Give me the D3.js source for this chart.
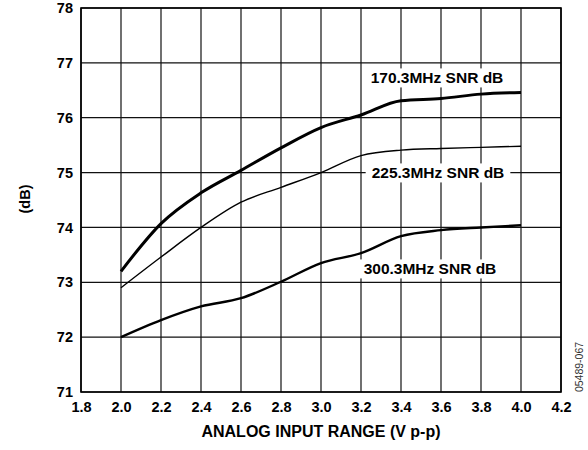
<!DOCTYPE html>
<html>
<head>
<meta charset="utf-8">
<script src="https://cdn.jsdelivr.net/npm/d3@7"></script>
<style>
  body { margin: 0; background: #fff; }
  svg text { font-family: Arial, "Liberation Sans", sans-serif; }
</style>
</head>
<body>
<svg width="588" height="450"></svg>
<script>
// input range (V p-p)
const inputRange = [2.0, 2.2, 2.4, 2.6, 2.8, 3.0, 3.2, 3.4, 3.6, 3.8, 4.0];
const snr170 = [73.2, 74.07, 74.63, 75.04, 75.45, 75.82, 76.05, 76.31, 76.35, 76.43, 76.46];
const snr225 = [72.9, 73.46, 74.0, 74.46, 74.73, 75.0, 75.31, 75.41, 75.44, 75.46, 75.48];
const snr300 = [72.0, 72.31, 72.56, 72.71, 73.01, 73.35, 73.53, 73.84, 73.95, 74.0, 74.04];
const xTicks = [1.8, 2.0, 2.2, 2.4, 2.6, 2.8, 3.0, 3.2, 3.4, 3.6, 3.8, 4.0, 4.2];
const yTicks = [71, 72, 73, 74, 75, 76, 77, 78];

const series = [
  { name: '170.3MHz SNR dB', values: snr170, width: 3, label: [437, 78] },
  { name: '225.3MHz SNR dB', values: snr225, width: 1.4, label: [438, 173] },
  { name: '300.3MHz SNR dB', values: snr300, width: 2.4, label: [430, 269] }
];

const svg = d3.select('svg');
const margin = { left: 81, top: 8, right: 27, bottom: 58 };
const width = 588 - margin.left - margin.right;
const height = 450 - margin.top - margin.bottom;

const x = d3.scaleLinear().domain([1.8, 4.2]).range([0, width]);
const y = d3.scaleLinear().domain([71, 78]).range([height, 0]);

const g = svg.append('g')
    .attr('transform', `translate(${margin.left},${margin.top})`);

// grid
g.append('g').selectAll('line')
  .data(xTicks)
  .enter().append('line')
    .attr('x1', d => x(d)).attr('x2', d => x(d))
    .attr('y1', 0).attr('y2', height)
    .attr('stroke', '#111').attr('stroke-width', 1.2);

g.append('g').selectAll('line')
  .data(yTicks)
  .enter().append('line')
    .attr('x1', 0).attr('x2', width)
    .attr('y1', d => y(d)).attr('y2', d => y(d))
    .attr('stroke', '#111').attr('stroke-width', 1.2);

g.append('rect')
    .attr('width', width).attr('height', height)
    .attr('fill', 'none').attr('stroke', '#000').attr('stroke-width', 1.6);

// axes labels
const xAxis = d3.axisBottom(x).tickValues(xTicks).tickFormat(d3.format('.1f')).tickSize(0).tickPadding(10);
const yAxis = d3.axisLeft(y).tickValues(yTicks).tickFormat(d3.format('d')).tickSize(0).tickPadding(8);

g.append('g')
    .attr('transform', `translate(0,${height})`)
    .call(xAxis)
    .call(s => s.select('.domain').remove())
    .selectAll('text')
      .attr('font-size', 14.5).attr('font-weight', 'bold').attr('fill', '#000')
      .attr('font-family', 'Arial, "Liberation Sans", sans-serif');

g.append('g')
    .call(yAxis)
    .call(s => s.select('.domain').remove())
    .selectAll('text')
      .attr('font-size', 14.5).attr('font-weight', 'bold').attr('fill', '#000')
      .attr('font-family', 'Arial, "Liberation Sans", sans-serif');

// curves
const line = d3.line()
    .x((d, i) => x(inputRange[i]))
    .y(d => y(d))
    .curve(d3.curveMonotoneX);

series.forEach(s => {
  g.append('path')
      .attr('d', line(s.values))
      .attr('fill', 'none')
      .attr('stroke', '#000')
      .attr('stroke-width', s.width)
      .attr('stroke-linejoin', 'round');
});

// series labels with white backing
series.forEach(s => {
  const t = svg.append('text')
      .attr('x', s.label[0]).attr('y', s.label[1])
      .attr('text-anchor', 'middle').attr('dy', '0.35em')
      .attr('font-size', 15.5).attr('font-weight', 'bold')
      .text(s.name);
  const bb = t.node().getBBox();
  svg.insert('rect', () => t.node())
      .attr('x', bb.x - 6).attr('y', bb.y - 1)
      .attr('width', bb.width + 12).attr('height', bb.height + 2)
      .attr('fill', '#fff');
});

// axis titles
svg.append('text')
    .attr('x', margin.left + width / 2).attr('y', 437)
    .attr('text-anchor', 'middle')
    .attr('font-size', 16).attr('font-weight', 'bold')
    .text('ANALOG INPUT RANGE (V p-p)');

svg.append('text')
    .attr('transform', `translate(30,199) rotate(-90)`)
    .attr('text-anchor', 'middle')
    .attr('font-size', 14.5).attr('font-weight', 'bold')
    .text('(dB)');

svg.append('text')
    .attr('transform', `translate(583,367) rotate(-90)`)
    .attr('text-anchor', 'middle')
    .attr('font-size', 10.5).attr('fill', '#333')
    .text('05489-067');
</script>
</body>
</html>
